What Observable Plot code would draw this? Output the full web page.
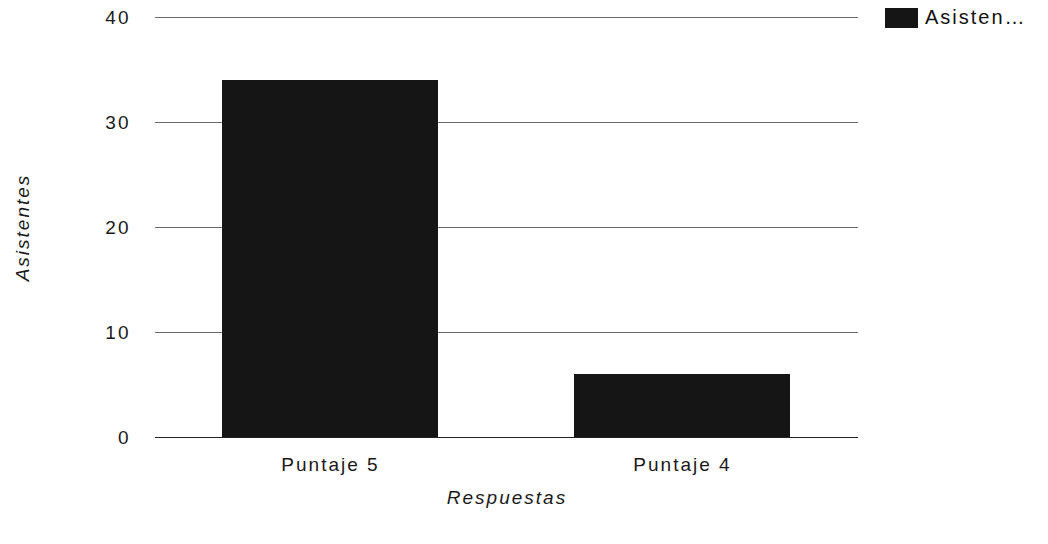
<!DOCTYPE html>
<html><head><meta charset="utf-8">
<script src="https://cdn.jsdelivr.net/npm/d3@7"></script>
<script src="https://cdn.jsdelivr.net/npm/@observablehq/plot@0.6"></script>
<style>
body{margin:0;background:#fff;font-family:"Liberation Sans",Arial,sans-serif;}
#wrap{position:relative;width:1048px;height:544px;}
#legend{position:absolute;left:885px;top:6px;display:flex;align-items:center;font-size:20px;letter-spacing:2px;color:#111;}
#legend span.sw{display:inline-block;width:33px;height:20px;background:#151515;margin-right:7px;}
svg text{letter-spacing:2px;}
g[aria-label="y-axis label"] text, g[aria-label="x-axis label"] text{font-style:italic;}
</style></head>
<body><div id="wrap"><div id="legend"><span class="sw"></span>Asisten…</div></div>
<script>
const categories = ["Puntaje 5", "Puntaje 4"];
const asistentes = [34, 6];
const yTicks = [0, 10, 20, 30, 40];
const seriesName = "Asistentes";
const xTitle = "Respuestas";

const data = categories.map((c, i) => ({cat: c, val: asistentes[i]}));

const chart = Plot.plot({
  width: 1048, height: 544,
  marginLeft: 155, marginRight: 190, marginTop: 17, marginBottom: 107,
  style: {fontFamily: '"Liberation Sans", Arial, sans-serif', fontSize: "19px", color: "#1a1a1a", background: "#fff"},
  x: {domain: categories, paddingInner: 0.385, paddingOuter: 0.19, label: xTitle, tickSize: 0, tickPadding: 20, labelAnchor: "center", labelOffset: 66, labelArrow: "none"},
  y: {domain: [0, 40], ticks: yTicks, label: seriesName, tickSize: 0, tickPadding: 25, labelAnchor: "center", labelOffset: 140, labelArrow: "none", tickFormat: d => String(d)},
  marks: [
    Plot.gridY(yTicks, {stroke: "#444", strokeOpacity: 0.8, strokeWidth: 1}),
    Plot.barY(data, {x: "cat", y: "val", fill: "#151515"}),
    Plot.ruleY([0], {stroke: "#222", strokeWidth: 1})
  ]
});
document.getElementById("wrap").prepend(chart);
</script></body></html>
